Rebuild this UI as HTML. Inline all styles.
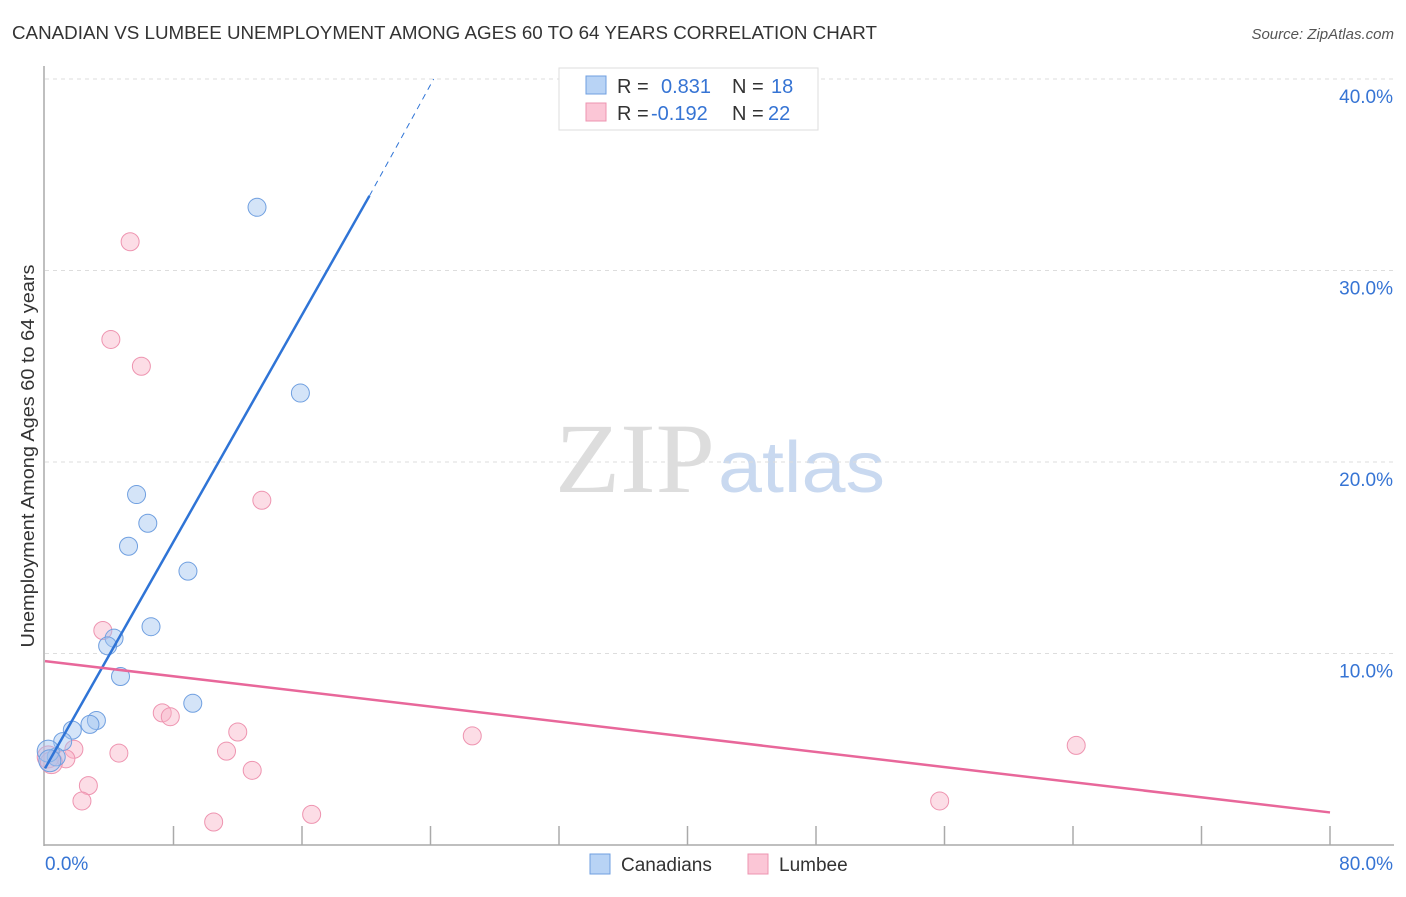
<!DOCTYPE html>
<html><head><meta charset="utf-8"><style>
body{margin:0;background:#fff;font-family:"Liberation Sans",sans-serif;}
</style></head><body>
<svg width="1406" height="892" xmlns="http://www.w3.org/2000/svg" id="chart">
<text x="12" y="39" font-size="18" fill="#333" textLength="865" lengthAdjust="spacingAndGlyphs">CANADIAN VS LUMBEE UNEMPLOYMENT AMONG AGES 60 TO 64 YEARS CORRELATION CHART</text>
<text x="1394" y="39" font-size="15" fill="#555" text-anchor="end" font-style="italic">Source: ZipAtlas.com</text>
<text x="555" y="492" font-size="100" fill="#ddd" textLength="160" lengthAdjust="spacingAndGlyphs" font-family="Liberation Serif,serif">ZIP</text>
<text x="718" y="492" font-size="72" fill="#c9d9f0" textLength="167" lengthAdjust="spacingAndGlyphs">atlas</text>
<g id="grid"></g>
<line x1="44" y1="66" x2="44" y2="846" stroke="#aaa" stroke-width="1.5"/>
<line x1="44" y1="845" x2="1394" y2="845" stroke="#aaa" stroke-width="1.5"/>
<g id="ticks"></g>
<text x="34" y="456" font-size="18" fill="#333" text-anchor="middle" textLength="383" lengthAdjust="spacingAndGlyphs" transform="rotate(-90 34 456)">Unemployment Among Ages 60 to 64 years</text>
<g id="pts"></g>
<g id="lines"></g>
<g>
<rect x="559" y="68" width="259" height="62" fill="#fff" stroke="#ddd"/>
<rect x="586" y="76" width="20" height="18" fill="#b8d3f5" stroke="#6f9fe0"/>
<rect x="586" y="103" width="20" height="18" fill="#fbc6d6" stroke="#ee94b0"/>
<text x="617" y="93" font-size="20" fill="#333">R = <tspan fill="#3674d4" x="661">0.831</tspan><tspan fill="#333" x="732">N = </tspan><tspan fill="#3674d4" x="771">18</tspan></text>
<text x="617" y="120" font-size="20" fill="#333">R = <tspan fill="#3674d4" x="651">-0.192</tspan><tspan fill="#333" x="732">N = </tspan><tspan fill="#3674d4" x="768">22</tspan></text>
</g>
<g>
<rect x="590" y="854" width="20" height="20" fill="#b8d3f5" stroke="#6f9fe0"/>
<text x="621" y="871" font-size="19" fill="#333">Canadians</text>
<rect x="748" y="854" width="20" height="20" fill="#fbc6d6" stroke="#ee94b0"/>
<text x="779" y="871" font-size="19" fill="#333">Lumbee</text>
</g>
</svg>
<script>
const yTicks=[10,20,30,40];
const xTickLabels=["0.0%","80.0%"];
const canX=[13.2,15.9,5.7,6.4,5.2,8.9,6.6,4.3,3.9,4.7,9.2,3.2,2.8,1.7,1.1,0.7,0.2,0.3];
const canY=[33.3,23.6,18.3,16.8,15.6,14.3,11.4,10.8,10.4,8.8,7.4,6.5,6.3,6.0,5.4,4.6,4.9,4.4];
const lumX=[5.3,4.1,6.0,13.5,3.6,7.3,7.8,12.0,26.6,64.2,1.8,4.6,11.3,1.3,12.9,2.7,2.3,55.7,16.6,10.5,0.2,0.4];
const lumY=[31.5,26.4,25.0,18.0,11.2,6.9,6.7,5.9,5.7,5.2,5.0,4.8,4.9,4.5,3.9,3.1,2.3,2.3,1.6,1.2,4.6,4.3];
const canLine=[0,4.0,20.2,33.9];
const canDash=[20.2,33.9,24.2,40.0];
const lumLine=[0,9.6,80,1.7];
const X=v=>45+v/80*1285, Y=v=>845-v/10*191.5;
const NS="http://www.w3.org/2000/svg";
function mk(t,a,p){const e=document.createElementNS(NS,t);for(const k in a)e.setAttribute(k,a[k]);document.getElementById(p).appendChild(e);return e;}
yTicks.forEach(t=>{
 const l=mk('line',{x1:45,x2:1394,y1:Y(t),y2:Y(t),stroke:'#ddd','stroke-dasharray':'4,4'},'grid');
 
 
 const s=mk('text',{x:1393,y:Y(t)+24,'font-size':19,fill:'#3674d4','text-anchor':'end'},'ticks');s.textContent=t.toFixed(1)+'%';
 
 
});
for(let i=1;i<=10;i++){const l=mk('line',{x1:X(i*8),x2:X(i*8),y1:826,y2:845,stroke:'#aaa','stroke-width':1.5},'ticks');
 
 }
const a=mk('text',{x:45,y:870,'font-size':19,fill:'#3674d4'},'ticks');a.textContent=xTickLabels[0];


const b=mk('text',{x:1393,y:870,'font-size':19,fill:'#3674d4','text-anchor':'end'},'ticks');b.textContent=xTickLabels[1];


lumX.forEach((v,i)=>{const c=mk('circle',{cx:X(v),cy:Y(lumY[i]),r:i>=20?11:9,fill:'rgba(248,180,200,0.45)',stroke:'#ee94b0','stroke-width':1},'pts');
 
 });
canX.forEach((v,i)=>{const c=mk('circle',{cx:X(v),cy:Y(canY[i]),r:i>=16?11:9,fill:'rgba(160,195,240,0.45)',stroke:'#6f9fe0','stroke-width':1},'pts');
 
 });
let l1=mk('line',{x1:X(canLine[0]),y1:Y(canLine[1]),x2:X(canLine[2]),y2:Y(canLine[3]),stroke:'#2f74d6','stroke-width':2.5},'lines');


let l2=mk('line',{x1:X(canDash[0]),y1:Y(canDash[1]),x2:X(canDash[2]),y2:Y(canDash[3]),stroke:'#2f74d6','stroke-width':1,'stroke-dasharray':'6,5'},'lines');


let l3=mk('line',{x1:X(lumLine[0]),y1:Y(lumLine[1]),x2:X(lumLine[2]),y2:Y(lumLine[3]),stroke:'#e8679a','stroke-width':2.5},'lines');


</script>
</body></html>
